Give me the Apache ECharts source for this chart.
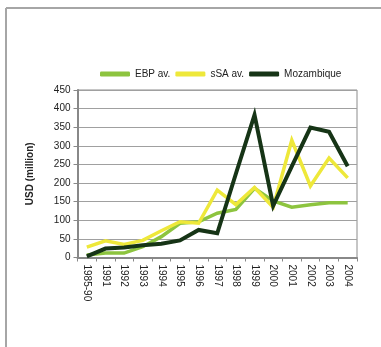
<!DOCTYPE html>
<html>
<head>
<meta charset="utf-8">
<script src="https://cdn.jsdelivr.net/npm/echarts@6/dist/echarts.min.js"></script>
<style>
  html, body { margin: 0; padding: 0; background: #fff; }
  #chart { width: 381px; height: 347px; }
</style>
</head>
<body>
<div id="chart"></div>
<script>
// Aid flows, USD million
var years = ['1985-90', '1991', '1992', '1993', '1994', '1995', '1996', '1997',
             '1998', '1999', '2000', '2001', '2002', '2003', '2004'];
var ebpAv = [7, 12, 12, 29, 56, 92, 96, 119, 129, 186, 152, 135, 142, 147, 147];
var ssaAv = [28, 45, 35, 46, 72, 96, 92, 181, 142, 188, 135, 315, 192, 267, 214];
var mozambique = [3, 24, 27, 33, 37, 46, 74, 65, 225, 383, 139, 245, 349, 338, 245];
var yTicks = { min: 0, max: 450, interval: 50 };

var chart = echarts.init(document.getElementById('chart'), null, { renderer: 'canvas' });
var fontFamily = '"Liberation Sans", Arial, sans-serif';

function lineSeries(name, data, color, width) {
  return {
    name: name,
    type: 'line',
    data: data,
    showSymbol: false,
    symbol: 'none',
    lineStyle: { color: color, width: width, join: 'miter' },
    itemStyle: { color: color },
    emphasis: { disabled: true },
    animation: false
  };
}

chart.setOption({
  backgroundColor: '#ffffff',
  animation: false,
  textStyle: { fontFamily: fontFamily },
  graphic: [
    { type: 'line', shape: { x1: 6, y1: 8, x2: 381, y2: 8 },
      style: { stroke: '#a6a6a6', lineWidth: 2 } },
    { type: 'line', shape: { x1: 6, y1: 8, x2: 6, y2: 347 },
      style: { stroke: '#a6a6a6', lineWidth: 2 } }
  ],
  legend: {
    left: 100,
    top: 69,
    padding: 0,
    icon: 'roundRect',
    itemWidth: 30,
    itemHeight: 5,
    itemGap: 5,
    textStyle: { fontSize: 10, color: '#222', fontFamily: fontFamily },
    data: ['EBP av.', 'sSA av.', 'Mozambique']
  },
  grid: {
    left: 77.5, right: 24, top: 90, bottom: 89.5,
    show: true, borderColor: '#8c8c8c', borderWidth: 1,
    containLabel: false
  },
  xAxis: {
    type: 'category',
    data: years,
    boundaryGap: true,
    axisLine: { lineStyle: { color: '#888', width: 2 } },
    axisTick: { show: true, length: 4, interval: 0, lineStyle: { color: '#888', width: 1 } },
    axisLabel: { rotate: -90, interval: 0, margin: 7, fontSize: 10, color: '#222', fontFamily: fontFamily },
    splitLine: { show: false }
  },
  yAxis: {
    type: 'value',
    min: yTicks.min, max: yTicks.max, interval: yTicks.interval,
    name: 'USD (million)',
    nameLocation: 'middle',
    nameGap: 42,
    nameTextStyle: { fontSize: 10, fontWeight: 'bold', color: '#222', fontFamily: fontFamily },
    axisLine: { show: true, lineStyle: { color: '#888', width: 2 } },
    axisTick: { show: true, length: 4, lineStyle: { color: '#888' } },
    axisLabel: { fontSize: 10, color: '#222', margin: 7, fontFamily: fontFamily },
    splitLine: { show: true, lineStyle: { color: '#a0a0a0', width: 1 } }
  },
  series: [
    lineSeries('EBP av.', ebpAv, '#8dc43f', 3.5),
    lineSeries('sSA av.', ssaAv, '#eee83a', 3.5),
    lineSeries('Mozambique', mozambique, '#163416', 4)
  ]
});
</script>
</body>
</html>
